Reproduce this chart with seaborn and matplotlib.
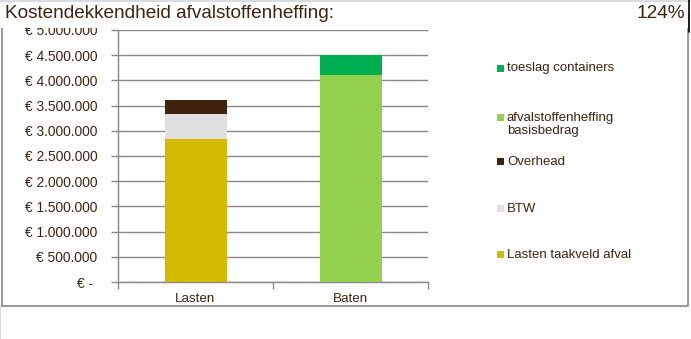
import matplotlib
matplotlib.use("Agg")
import matplotlib.pyplot as plt
from matplotlib.patches import Rectangle
from matplotlib.lines import Line2D
from matplotlib.ticker import FixedLocator, FuncFormatter
import pandas as pd
import seaborn as sns

# Categories and stacked segments (bottom to top)
categories = ["Lasten", "Baten"]
segments = ["Lasten taakveld afval", "BTW", "Overhead",
            "afvalstoffenheffing\nbasisbedrag", "toeslag containers"]
segment_category = ["Lasten", "Lasten", "Lasten", "Baten", "Baten"]
segment_values = [2840000, 495000, 280000, 4110000, 390000]
segment_colors = ["#D4BA00", "#E0E0E0", "#40220F", "#92D050", "#00B050"]
y_ticks = [0, 500000, 1000000, 1500000, 2000000, 2500000,
           3000000, 3500000, 4000000, 4500000, 5000000]
title_text = "Kostendekkendheid afvalstoffenheffing:"

TEXT = "#3D2410"
GRID = "#8E8686"

sns.set_theme(style="white")
plt.rcParams["font.family"] = ["Liberation Sans", "DejaVu Sans"]

df = pd.DataFrame({"categorie": segment_category, "segment": segments,
                   "waarde": segment_values, "kleur": segment_colors})
df["top"] = df.groupby("categorie")["waarde"].cumsum()

# Ratio of revenue to costs, shown top right
totals = df.groupby("categorie")["waarde"].sum()
ratio = totals["Baten"] / totals["Lasten"]

fig = plt.figure(figsize=(6.91, 3.39), dpi=100)
ax = fig.add_axes([118 / 691, 1 - 282 / 339, (428 - 118) / 691, (282 - 30) / 339])

# Stacked bars: draw cumulative tops from highest segment down
for _, row in df.iloc[::-1].iterrows():
    sub = pd.DataFrame({"categorie": [row["categorie"]], "top": [row["top"]]})
    sns.barplot(data=sub, x="categorie", y="top", order=categories,
                color=row["kleur"], saturation=1, width=0.4,
                linewidth=0, ax=ax, zorder=3)

ax.set_xlim(-0.5, len(categories) - 0.5)
ax.set_ylim(0, 5000000)
ax.set_xlabel("")
ax.set_ylabel("")

def euro(v, pos):
    if v == 0:
        return "€ - "
    return "€ " + f"{int(v):,}".replace(",", ".")

ax.yaxis.set_major_locator(FixedLocator(y_ticks))
ax.yaxis.set_major_formatter(FuncFormatter(euro))
ax.yaxis.grid(True, color=GRID, linewidth=1)
ax.set_axisbelow(True)

for side in ["top", "right"]:
    ax.spines[side].set_visible(False)
for side in ["left", "bottom"]:
    ax.spines[side].set_color(GRID)
    ax.spines[side].set_linewidth(1)

ax.tick_params(axis="y", which="major", left=True, length=5, width=1,
               color=GRID, pad=10, labelsize=9.9, labelcolor=TEXT)
# category boundaries as x ticks, labels at category centres
ax.set_xticks([i for i in range(len(categories))])
ax.set_xticklabels(categories)
ax.tick_params(axis="x", which="major", bottom=False, length=0, pad=8,
               labelsize=9.6, labelcolor=TEXT)
ax.set_xticks([-0.5, 0.5, 1.5], minor=True)
ax.tick_params(axis="x", which="minor", bottom=True, length=5, width=1,
               color=GRID, direction="out")

# Outer chart frame
fig.patches.append(Rectangle((1.5 / 691, 1 - 306 / 339), (688 - 1.5) / 691,
                             (306 - 14) / 339, transform=fig.transFigure,
                             fill=False, edgecolor=GRID, linewidth=1.2, zorder=0))
fig.add_artist(Line2D([0.4 / 691, 0.4 / 691], [0, 1 - 306 / 339],
                      transform=fig.transFigure, color="#D4D4D4", linewidth=1.2))

# Title band
fig.patches.append(Rectangle((0, 1 - 28 / 339), 688 / 691, 28 / 339,
                             transform=fig.transFigure, facecolor="white",
                             edgecolor="none", zorder=5))
fig.add_artist(Line2D([0, 1], [1 - 0.6 / 339, 1 - 0.6 / 339],
                      transform=fig.transFigure, color="#D4D4D4",
                      linewidth=1.2, zorder=6))
fig.add_artist(Line2D([688.5 / 691, 688.5 / 691], [1, 1 - 32 / 339],
                      transform=fig.transFigure, color="black",
                      linewidth=1.2, zorder=6))
fig.text(5 / 691, 1 - 14 / 339, title_text, ha="left", va="center",
         fontsize=13.7, color=TEXT, zorder=7)
fig.text(685 / 691, 1 - 14 / 339, f"{int(ratio * 100)}%", ha="right",
         va="center", fontsize=13.7, color=TEXT, zorder=7)

# Legend, top entry first
legend_y = [68, 117, 161.5, 208.5, 254]
for lbl, col, ypx in zip(segments[::-1], segment_colors[::-1], legend_y):
    fig.patches.append(Rectangle((497 / 691, 1 - (ypx + 3.5) / 339), 7 / 691,
                                 7 / 339, transform=fig.transFigure,
                                 facecolor=col, edgecolor="none"))
    fig.text(507 / 691, 1 - (ypx - 5.5) / 339, lbl, ha="left", va="top",
             fontsize=9.5, color=TEXT, linespacing=1.2)

fig.savefig("out.png", dpi=100)
